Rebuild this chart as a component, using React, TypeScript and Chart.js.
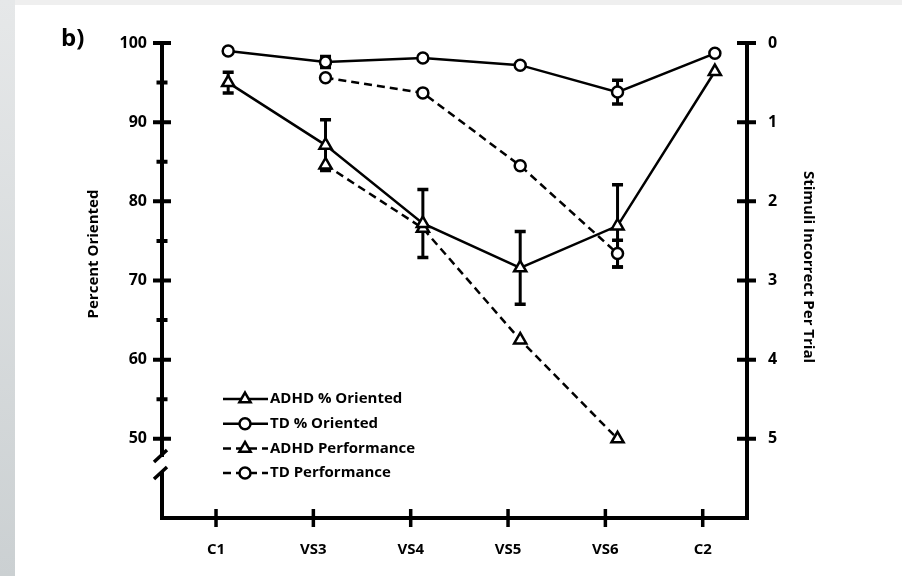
import React, { useEffect, useRef } from 'react';
import { Chart, registerables } from 'chart.js';

Chart.register(...registerables);

// ---------- data ----------
const categories = ['C1', 'VS3', 'VS4', 'VS5', 'VS6', 'C2'];
const seriesLabels = ['ADHD % Oriented', 'TD % Oriented', 'ADHD Performance', 'TD Performance'];
const adhdOriented = [95.0, 87.1, 77.2, 71.6, 76.9, 96.4];
const adhdOrientedErr = [1.3, 3.2, 4.3, 4.6, 5.2, 0];
const tdOriented = [99.0, 97.6, 98.1, 97.2, 93.8, 98.7];
const tdOrientedErr = [0, 0.7, 0, 0, 1.5, 0];
const adhdPerformance: (number | null)[] = [null, 1.54, 2.34, 3.75, 5.0, null];
const tdPerformance: (number | null)[] = [null, 0.44, 0.63, 1.55, 2.66, null];
const tdPerformanceErr = [0, 0, 0, 0, 0.17, 0];
const leftMajorTicks = [50, 60, 70, 80, 90, 100];
const leftMinorTicks = [55, 65, 75, 85, 95];
const rightTicks = [0, 1, 2, 3, 4, 5];
const leftTitle = 'Percent Oriented';
const rightTitle = 'Stimuli Incorrect Per Trial';
const panelLabel = 'b)';

// ---------- style ----------
const FONT = '"Open Sans", "Noto Sans", "DejaVu Sans", sans-serif';
const TICK_SHIFT = -0.125;
const BREAK_TOP = 47.7;
const BREAK_BOTTOM = 45.8;

const toPoints = (arr: (number | null)[]) =>
  arr
    .map((v, i) => (v == null ? null : { x: i, y: v }))
    .filter((p) => p !== null) as { x: number; y: number }[];

function drawMarker(ctx: CanvasRenderingContext2D, style: string, x: number, y: number, r: number) {
  ctx.beginPath();
  if (style === 'triangle') {
    const s = Math.sin((2 * Math.PI) / 3);
    const c = Math.cos((2 * Math.PI) / 3);
    ctx.moveTo(x, y - r);
    ctx.lineTo(x + r * s, y - r * c);
    ctx.lineTo(x - r * s, y - r * c);
    ctx.closePath();
  } else {
    ctx.arc(x, y, r, 0, Math.PI * 2);
  }
  ctx.fill();
  ctx.stroke();
}

const decorPlugin = {
  id: 'decor',
  beforeDraw(chart: any) {
    const { ctx, width, height } = chart;
    ctx.save();
    ctx.fillStyle = '#efefef';
    ctx.fillRect(0, 0, width, height);
    const g = ctx.createLinearGradient(0, 0, 0, height);
    g.addColorStop(0, '#e6e8e9');
    g.addColorStop(1, '#cbd0d2');
    ctx.fillStyle = g;
    ctx.fillRect(0, 0, 15, height);
    ctx.fillStyle = '#ffffff';
    ctx.fillRect(15, 5, width - 15, height - 5);
    ctx.restore();
  },
  beforeDatasetsDraw(chart: any) {
    const { ctx } = chart;
    const xs = chart.scales.x;
    ctx.save();
    ctx.strokeStyle = '#000';
    chart.data.datasets.forEach((ds: any) => {
      const errs: number[] | undefined = ds.errorBars;
      if (!errs) return;
      const ys = chart.scales[ds.yAxisID];
      ds.data.forEach((p: any) => {
        const e = errs[p.x];
        if (!e) return;
        const x = xs.getPixelForValue(p.x);
        const y1 = ys.getPixelForValue(p.y + e);
        const y2 = ys.getPixelForValue(p.y - e);
        ctx.lineWidth = 3;
        ctx.beginPath();
        ctx.moveTo(x, y1);
        ctx.lineTo(x, y2);
        ctx.stroke();
        ctx.lineWidth = 3.5;
        ctx.beginPath();
        ctx.moveTo(x - 5.5, y1);
        ctx.lineTo(x + 5.5, y1);
        ctx.moveTo(x - 5.5, y2);
        ctx.lineTo(x + 5.5, y2);
        ctx.stroke();
      });
    });
    ctx.restore();
  },
  afterDraw(chart: any) {
    const { ctx, chartArea } = chart;
    const xs = chart.scales.x;
    const yl = chart.scales.y;
    const yr = chart.scales.y2;
    const L = chartArea.left;
    const R = chartArea.right;
    const T = chartArea.top;
    const B = chartArea.bottom;
    ctx.save();
    ctx.strokeStyle = '#000';
    ctx.fillStyle = '#000';
    ctx.lineCap = 'butt';

    // axis lines
    ctx.lineWidth = 4;
    const bTop = yl.getPixelForValue(BREAK_TOP);
    const bBot = yl.getPixelForValue(BREAK_BOTTOM);
    ctx.beginPath();
    ctx.moveTo(L, T - 2);
    ctx.lineTo(L, bTop);
    ctx.moveTo(L, bBot);
    ctx.lineTo(L, B + 2);
    ctx.moveTo(L - 2, B);
    ctx.lineTo(R + 2, B);
    ctx.moveTo(R, B + 2);
    ctx.lineTo(R, T - 2);
    ctx.stroke();

    // break slashes
    ctx.lineWidth = 3.5;
    ctx.beginPath();
    ctx.moveTo(L - 8, bTop + 5);
    ctx.lineTo(L + 5, bTop - 7);
    ctx.moveTo(L - 8, bBot + 7);
    ctx.lineTo(L + 5, bBot - 5);
    ctx.stroke();

    // ticks
    ctx.lineWidth = 4;
    ctx.beginPath();
    leftMajorTicks.forEach((v) => {
      const y = yl.getPixelForValue(v);
      ctx.moveTo(L - 9, y);
      ctx.lineTo(L + 9, y);
    });
    leftMinorTicks.forEach((v) => {
      const y = yl.getPixelForValue(v);
      ctx.moveTo(L - 5.5, y);
      ctx.lineTo(L + 5.5, y);
    });
    rightTicks.forEach((v) => {
      const y = yr.getPixelForValue(v);
      ctx.moveTo(R - 10, y);
      ctx.lineTo(R + 9, y);
    });
    ctx.stroke();
    ctx.lineWidth = 3.5;
    ctx.beginPath();
    categories.forEach((_, i) => {
      const x = xs.getPixelForValue(i + TICK_SHIFT);
      ctx.moveTo(x, B - 9);
      ctx.lineTo(x, B + 9);
    });
    ctx.stroke();

    // tick labels
    ctx.font = 'bold 16px ' + FONT;
    ctx.textBaseline = 'middle';
    ctx.textAlign = 'right';
    leftMajorTicks.forEach((v) => ctx.fillText(String(v), L - 15, yl.getPixelForValue(v)));
    ctx.textAlign = 'left';
    rightTicks.forEach((v) => ctx.fillText(String(v), R + 21, yr.getPixelForValue(v)));
    ctx.font = 'bold 15px ' + FONT;
    ctx.textAlign = 'center';
    categories.forEach((c, i) => ctx.fillText(c, xs.getPixelForValue(i + TICK_SHIFT), B + 32));

    // axis titles
    ctx.font = 'bold 15px ' + FONT;
    ctx.save();
    ctx.translate(94, 254);
    ctx.rotate(-Math.PI / 2);
    ctx.textAlign = 'center';
    ctx.fillText(leftTitle, 0, 0);
    ctx.restore();
    ctx.save();
    ctx.translate(808, 267);
    ctx.rotate(Math.PI / 2);
    ctx.textAlign = 'center';
    ctx.fillText(rightTitle, 0, 0);
    ctx.restore();

    // panel label
    ctx.font = 'bold 24px ' + FONT;
    ctx.textAlign = 'left';
    ctx.fillText(panelLabel, 61, 39);

    // legend
    ctx.font = 'bold 15px ' + FONT;
    chart.data.datasets.forEach((ds: any, i: number) => {
      const y = 399 + i * 24.7;
      ctx.save();
      ctx.lineWidth = 2.5;
      ctx.setLineDash(ds.borderDash || []);
      ctx.beginPath();
      ctx.moveTo(223, y);
      ctx.lineTo(268, y);
      ctx.stroke();
      ctx.restore();
      ctx.save();
      ctx.fillStyle = '#fff';
      ctx.strokeStyle = '#000';
      ctx.lineWidth = 2.5;
      drawMarker(ctx, ds.pointStyle, 245, y, ds.pointStyle === 'triangle' ? 6.5 : 5.5);
      ctx.restore();
      ctx.textAlign = 'left';
      ctx.fillStyle = '#000';
      ctx.fillText(ds.label, 270, y);
    });
    ctx.restore();
  },
};

export default function App() {
  const ref = useRef<HTMLCanvasElement | null>(null);
  useEffect(() => {
    if (!ref.current) return;
    const common = {
      borderColor: '#000',
      borderWidth: 2.5,
      pointBackgroundColor: '#fff',
      pointBorderColor: '#000',
      pointBorderWidth: 2.5,
      fill: false,
      tension: 0,
    };
    const chart = new Chart(ref.current, {
      type: 'line',
      data: {
        datasets: [
          {
            ...common,
            label: seriesLabels[0],
            data: toPoints(adhdOriented),
            yAxisID: 'y',
            pointStyle: 'triangle',
            pointRadius: 7,
            errorBars: adhdOrientedErr,
          } as any,
          {
            ...common,
            label: seriesLabels[1],
            data: toPoints(tdOriented),
            yAxisID: 'y',
            pointStyle: 'circle',
            pointRadius: 5.5,
            errorBars: tdOrientedErr,
          } as any,
          {
            ...common,
            label: seriesLabels[2],
            data: toPoints(adhdPerformance),
            yAxisID: 'y2',
            pointStyle: 'triangle',
            pointRadius: 7,
            borderDash: [8, 5],
          } as any,
          {
            ...common,
            label: seriesLabels[3],
            data: toPoints(tdPerformance),
            yAxisID: 'y2',
            pointStyle: 'circle',
            pointRadius: 5.5,
            borderDash: [8, 5],
            errorBars: tdPerformanceErr,
          } as any,
        ],
      },
      options: {
        animation: false,
        responsive: false,
        devicePixelRatio: 1,
        layout: { padding: { left: 162, right: 155, top: 43, bottom: 58 } },
        plugins: { legend: { display: false }, tooltip: { enabled: false } },
        events: [],
        scales: {
          x: { type: 'linear', min: -0.68, max: 5.33, display: false },
          y: { type: 'linear', position: 'left', min: 40, max: 100, display: false },
          y2: { type: 'linear', position: 'right', min: 0, max: 6, reverse: true, display: false },
        },
      },
      plugins: [decorPlugin],
    });
    return () => chart.destroy();
  }, []);
  return (
    <div style={{ position: 'fixed', left: 0, top: 0, width: 902, height: 576 }}>
      <canvas ref={ref} width={902} height={576} style={{ width: 902, height: 576, display: 'block' }} />
    </div>
  );
}
